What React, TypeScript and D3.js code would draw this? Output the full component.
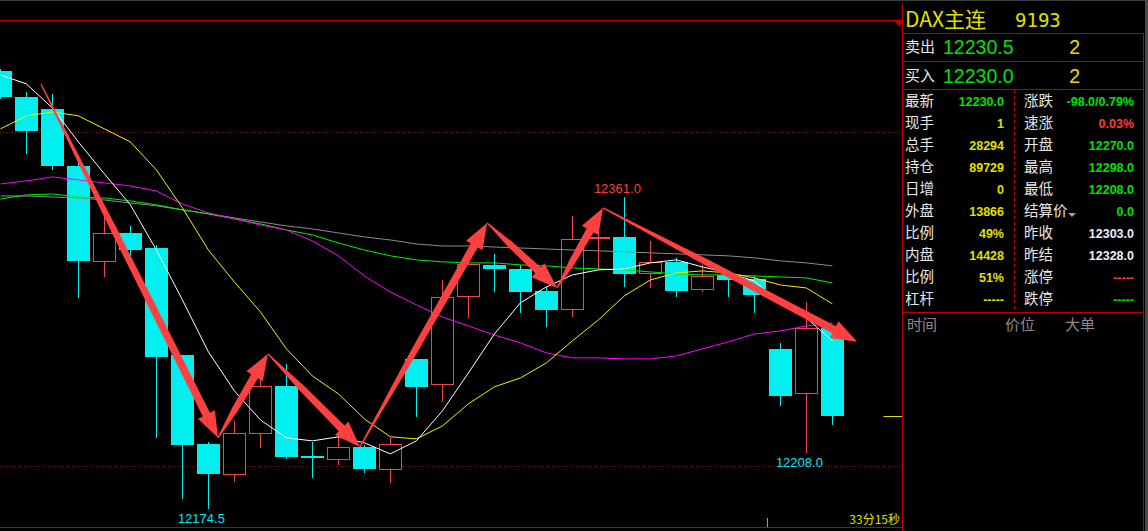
import React from 'react';
import * as d3 from 'd3';

const W = 1148;
const H = 531;

// ---- candle data (33 bars) ----
const opens = [12436.3, 12420.8, 12413.6, 12379.5, 12322.7, 12339.5, 12330.5, 12266.6, 12213.4, 12195.4, 12219.9, 12248.0, 12206.0, 12204.4, 12211.6, 12198.4, 12264.2, 12249.2, 12301.8, 12320.4, 12318.0, 12304.8, 12294.1, 12336.5, 12337.1, 12315.6, 12322.1, 12306.0, 12314.4, 12312.0, 12270.1, 12243.8, 12282.5];
const highs = [12437.5, 12423.8, 12422.6, 12381.9, 12350.8, 12343.7, 12332.3, 12266.6, 12214.7, 12227.1, 12252.8, 12261.2, 12214.6, 12218.7, 12212.8, 12216.9, 12264.2, 12311.4, 12322.0, 12326.9, 12320.4, 12307.2, 12349.6, 12343.1, 12361.0, 12334.7, 12324.5, 12320.4, 12316.8, 12313.8, 12273.7, 12298.0, 12283.0];
const lows = [12419.6, 12386.7, 12377.1, 12300.6, 12313.2, 12325.1, 12216.9, 12180.5, 12174.5, 12190.6, 12211.0, 12204.4, 12193.0, 12200.8, 12196.0, 12190.0, 12229.5, 12238.5, 12288.7, 12304.2, 12291.7, 12283.3, 12289.3, 12318.0, 12307.2, 12306.6, 12301.2, 12304.2, 12301.2, 12291.7, 12236.1, 12208.0, 12224.5];
const closes = [12420.8, 12400.5, 12379.5, 12322.7, 12339.5, 12329.3, 12265.4, 12212.8, 12195.4, 12219.9, 12248.0, 12205.6, 12205.5, 12211.6, 12198.4, 12213.4, 12247.4, 12301.2, 12321.0, 12318.0, 12304.2, 12293.5, 12335.9, 12337.1, 12315.0, 12322.1, 12304.8, 12313.8, 12311.4, 12302.4, 12242.0, 12282.7, 12230.0];

// ---- moving averages ----
const maWhite = [12434.0, 12428.6, 12414.2, 12393.9, 12374.8, 12356.3, 12329.3, 12299.5, 12268.4, 12245.1, 12227.7, 12217.0, 12215.2, 12217.6, 12214.0, 12207.4, 12215.2, 12233.1, 12255.8, 12279.1, 12297.7, 12307.2, 12314.4, 12317.4, 12318.0, 12321.6, 12323.4, 12319.2, 12315.6, 12310.8, 12297.1, 12288.7, 12275.0];
const maYellow = [12401.7, 12409.5, 12411.8, 12409.5, 12401.7, 12393.9, 12377.2, 12354.5, 12329.3, 12310.2, 12292.3, 12270.2, 12254.0, 12243.3, 12228.3, 12217.6, 12216.4, 12224.1, 12237.3, 12247.5, 12252.8, 12261.8, 12275.0, 12287.5, 12301.9, 12311.4, 12315.6, 12316.8, 12315.6, 12312.6, 12308.4, 12306.6, 12297.1];
const maMagenta = [12368.8, 12370.6, 12373.0, 12371.2, 12369.4, 12367.6, 12364.6, 12356.8, 12351.5, 12347.9, 12344.3, 12341.3, 12334.7, 12325.8, 12313.8, 12304.2, 12296.5, 12289.3, 12283.9, 12278.5, 12273.8, 12267.8, 12264.8, 12264.8, 12264.2, 12264.2, 12266.0, 12270.2, 12274.4, 12279.1, 12280.9, 12283.9, 12285.7];
const maGreen = [12359.8, 12362.2, 12362.8, 12361.0, 12360.4, 12358.6, 12356.3, 12353.3, 12350.9, 12347.9, 12344.9, 12341.3, 12338.3, 12333.5, 12329.3, 12325.8, 12323.4, 12322.2, 12321.6, 12321.6, 12320.4, 12319.8, 12318.6, 12318.0, 12317.4, 12316.2, 12315.0, 12314.4, 12314.4, 12313.8, 12313.2, 12312.6, 12309.6];
const maGray = [12361.6, 12361.6, 12361.0, 12360.4, 12359.2, 12357.4, 12355.7, 12353.3, 12350.9, 12348.5, 12346.1, 12343.7, 12341.9, 12339.5, 12337.1, 12335.3, 12332.9, 12331.7, 12331.7, 12331.1, 12330.5, 12329.9, 12329.3, 12328.8, 12328.2, 12327.6, 12327.0, 12326.4, 12325.8, 12324.6, 12322.8, 12321.6, 12319.8];

// ---- annotation arrows: [bar index, price] waypoints ----
const arrowIdx = [1.56, 8.37, 10.29, 13.83, 18.72, 21.41, 23.18, 32.95];
const arrowPrice = [12428.6, 12217.0, 12267.2, 12211.6, 12345.5, 12306.6, 12354.5, 12274.4];

const gridPrices = [12400, 12200];
const lastPrice = 12230.0;
const highLabelIdx = 24;
const lowLabelIdxs = [8, 31];
const sessionBreakIdx = 29.5;

// ---- quote panel ----
const title = 'DAX主连';
const titleCode = '9193';
const askLabel = '卖出', askPrice = '12230.5', askVol = '2';
const bidLabel = '买入', bidPrice = '12230.0', bidVol = '2';
const leftLabels = ['最新', '现手', '总手', '持仓', '日增', '外盘', '比例', '内盘', '比例', '杠杆'];
const leftValues = ['12230.0', '1', '28294', '89729', '0', '13866', '49%', '14428', '51%', '-----'];
const leftColors = ['g', 'y', 'y', 'y', 'y', 'y', 'y', 'y', 'y', 'y'];
const rightLabels = ['涨跌', '速涨', '开盘', '最高', '最低', '结算价', '昨收', '昨结', '涨停', '跌停'];
const rightValues = ['-98.0/0.79%', '0.03%', '12270.0', '12298.0', '12208.0', '0.0', '12303.0', '12328.0', '-----', '-----'];
const rightColors = ['g', 'r', 'g', 'g', 'g', 'g', 'w', 'w', 'r', 'g'];
const tickHeaders = ['时间', '价位', '大单'];
const timerText = '33分15秒';

const COL: Record<string, string> = { g: '#00e000', y: '#e0e000', r: '#ff3c3c', w: '#e8f0ff' };
const CYAN = '#00f0f0';
const RED = '#f04646';
const ARROW = '#ff4040';
const FRAME = '#c00000';

function arrowPoly(x0: number, y0: number, x1: number, y1: number) {
  const dx = x1 - x0, dy = y1 - y0;
  const L = Math.hypot(dx, dy);
  const ux = dx / L, uy = dy / L;
  const nx = -uy, ny = ux;
  const hl = Math.min(26, L * 0.3);
  const hw = 9.5, sw = 4, s0 = 0.6;
  const bx = x1 - ux * hl, by = y1 - uy * hl;
  // shaft widens over its first part then stays near constant
  const mx = x0 + ux * (L - hl) * 0.45, my = y0 + uy * (L - hl) * 0.45;
  const sm = sw * 0.8;
  const p = [
    [x0 + nx * s0, y0 + ny * s0],
    [mx + nx * sm, my + ny * sm],
    [bx + nx * sw, by + ny * sw],
    [bx + nx * hw, by + ny * hw],
    [x1, y1],
    [bx - nx * hw, by - ny * hw],
    [bx - nx * sw, by - ny * sw],
    [mx - nx * sm, my - ny * sm],
    [x0 - nx * s0, y0 - ny * s0],
  ];
  return p.map((q) => q.join(',')).join(' ');
}

export default function App() {
  const chartRight = 902;
  const y = d3.scaleLinear().domain([12163.7, 12466.8]).range([527, 20]);
  const x = d3.scaleLinear().domain([0, 32]).range([0.4, 832.4]);

  const line = d3
    .line<number>()
    .x((_, i) => x(i))
    .y((d) => y(d));

  const mas: [number[], string][] = [
    [maGray, '#8c8c8c'],
    [maGreen, '#00f000'],
    [maMagenta, '#ff00ff'],
    [maYellow, '#f0f000'],
    [maWhite, '#ffffff'],
  ];

  const rowY = (k: number) => 101 + 22 * k;
  const panelX = 902;

  return (
    <svg
      width={W}
      height={H}
      style={{ position: 'fixed', left: 0, top: 0, display: 'block', background: '#000' }}
    >
      <rect x={0} y={0} width={W} height={H} fill="#000" />
      <rect x={0} y={0} width={W} height={1} fill="#3c3c3c" />
      <rect x={1145} y={0} width={3} height={H} fill="#4a4a4a" />

      {/* chart frame */}
      <line x1={0} x2={chartRight} y1={20.5} y2={20.5} stroke={FRAME} />
      <line x1={0} x2={chartRight} y1={527.5} y2={527.5} stroke={FRAME} />
      <polygon points="893,20 902,20 900,27" fill={FRAME} />

      {/* grid */}
      {gridPrices.map((p) => (
        <line
          key={p}
          x1={0}
          x2={chartRight}
          y1={Math.round(y(p)) + 0.5}
          y2={Math.round(y(p)) + 0.5}
          stroke="#8a1010"
          strokeDasharray="1,2"
        />
      ))}

      {/* candles */}
      {opens.map((o, i) => {
        const c = closes[i];
        const cx = Math.round(x(i));
        const up = c > o;
        const top = Math.round(y(Math.max(o, c)));
        const bot = Math.round(y(Math.min(o, c)));
        const hy = Math.round(y(highs[i]));
        const ly = Math.round(y(lows[i]));
        if (up) {
          return (
            <g key={i}>
              <line x1={cx + 0.5} x2={cx + 0.5} y1={hy} y2={ly} stroke={RED} />
              <rect
                x={cx - 11 + 0.5}
                y={top + 0.5}
                width={22}
                height={Math.max(1, bot - top)}
                fill="#000"
                stroke={RED}
              />
            </g>
          );
        }
        return (
          <g key={i}>
            <line x1={cx + 0.5} x2={cx + 0.5} y1={hy} y2={ly} stroke={CYAN} />
            <rect x={cx - 11} y={top} width={23} height={Math.max(2, bot - top)} fill={CYAN} />
          </g>
        );
      })}

      {/* moving averages */}
      {mas.map(([d, col], k) => (
        <path key={k} d={line(d) || ''} fill="none" stroke={col} strokeWidth={1} />
      ))}

      {/* current price marker */}
      <line
        x1={x(32) + 51}
        x2={chartRight}
        y1={Math.round(y(lastPrice)) + 0.5}
        y2={Math.round(y(lastPrice)) + 0.5}
        stroke="#e0e000"
      />

      {/* arrows */}
      {arrowIdx.slice(1).map((_, k) => (
        <polygon
          key={k}
          points={arrowPoly(
            x(arrowIdx[k]),
            y(arrowPrice[k]),
            x(arrowIdx[k + 1]),
            y(arrowPrice[k + 1])
          )}
          fill={ARROW}
        />
      ))}

      {/* extreme labels */}
      <text
        x={x(highLabelIdx) - 7}
        y={y(highs[highLabelIdx]) - 4}
        fill="#ff3c3c"
        fontFamily="Liberation Sans, Arial, sans-serif"
        fontSize={13}
        textAnchor="middle"
      >
        {highs[highLabelIdx].toFixed(1)}
      </text>
      {lowLabelIdxs.map((i) => (
        <text
          key={i}
          x={x(i) - 7}
          y={y(lows[i]) + 14}
          fill="#00e8f0"
          fontFamily="Liberation Sans, Arial, sans-serif"
          fontSize={13}
          textAnchor="middle"
        >
          {lows[i].toFixed(1)}
        </text>
      ))}

      {/* session break tick & timer */}
      <line
        x1={Math.round(x(sessionBreakIdx)) + 0.5}
        x2={Math.round(x(sessionBreakIdx)) + 0.5}
        y1={518}
        y2={527}
        stroke="#a0a0a0"
      />
      <text
        x={900}
        y={524}
        fill="#e0e000"
        fontFamily="Noto Sans CJK SC, sans-serif"
        fontSize={12}
        textAnchor="end"
      >
        {timerText}
      </text>

      {/* quote panel frame */}
      <line x1={panelX + 0.5} x2={panelX + 0.5} y1={3} y2={H} stroke={FRAME} />
      <line x1={1143.5} x2={1143.5} y1={33} y2={H} stroke={FRAME} />
      {[33.5, 61.5, 89.5, 312.5].map((yy) => (
        <line key={yy} x1={panelX} x2={1144} y1={yy} y2={yy} stroke={FRAME} />
      ))}
      <line x1={1014.5} x2={1014.5} y1={90} y2={312} stroke={FRAME} strokeDasharray="3,3" />

      <text x={905} y={27} fill="#e0e000" fontFamily="Noto Sans CJK SC, sans-serif" fontSize={21}>
        {title}
      </text>
      <text x={1015} y={27} fill="#e0e000" fontFamily="DejaVu Sans Mono, monospace" fontSize={19}>
        {titleCode}
      </text>

      {[
        [askLabel, askPrice, askVol, 47],
        [bidLabel, bidPrice, bidVol, 76],
      ].map(([lab, pr, vol, cy]) => (
        <g key={lab as string}>
          <text x={905} y={(cy as number) + 5} fill="#e8e8e8" fontFamily="Noto Sans CJK SC, sans-serif" fontSize={15}>
            {lab}
          </text>
          <text x={943} y={(cy as number) + 7} fill="#00e000" fontFamily="Liberation Sans, Arial, sans-serif" fontSize={19.5}>
            {pr}
          </text>
          <text x={1080} y={(cy as number) + 7} fill="#e0e000" fontFamily="Liberation Sans, Arial, sans-serif" fontSize={19.5} textAnchor="end">
            {vol}
          </text>
        </g>
      ))}

      {leftLabels.map((lab, k) => (
        <g key={'l' + k}>
          <text x={905} y={rowY(k) + 5} fill="#e8e8e8" fontFamily="Noto Sans CJK SC, sans-serif" fontSize={14.5}>
            {lab}
          </text>
          <text
            x={1004}
            y={rowY(k) + 4.5}
            fill={COL[leftColors[k]]}
            fontFamily="Liberation Sans, Arial, sans-serif"
            fontWeight="bold"
            fontSize={12.5}
            textAnchor="end"
          >
            {leftValues[k]}
          </text>
        </g>
      ))}
      {rightLabels.map((lab, k) => (
        <g key={'r' + k}>
          <text x={1024} y={rowY(k) + 5} fill="#e8e8e8" fontFamily="Noto Sans CJK SC, sans-serif" fontSize={14.5}>
            {lab}
          </text>
          <text
            x={1134}
            y={rowY(k) + 4.5}
            fill={COL[rightColors[k]]}
            fontFamily="Liberation Sans, Arial, sans-serif"
            fontWeight="bold"
            fontSize={12.5}
            textAnchor="end"
          >
            {rightValues[k]}
          </text>
        </g>
      ))}
      <polygon points={`1068,${rowY(5) + 2} 1076,${rowY(5) + 2} 1072,${rowY(5) + 6}`} fill="#a0a0a0" />

      {tickHeaders.map((t, k) => (
        <text
          key={t}
          x={[907, 1005, 1065][k]}
          y={330}
          fill="#8c8c8c"
          fontFamily="Noto Sans CJK SC, sans-serif"
          fontSize={15}
        >
          {t}
        </text>
      ))}
    </svg>
  );
}
